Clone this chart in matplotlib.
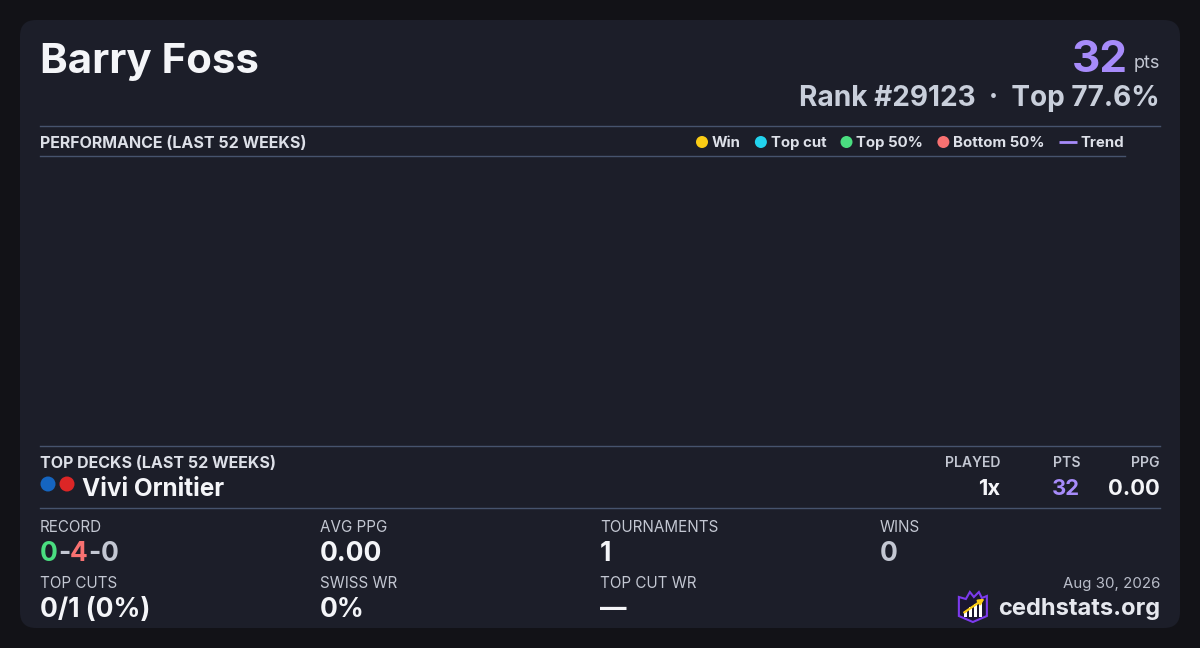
import matplotlib
matplotlib.use("Agg")
import matplotlib.pyplot as plt
from matplotlib.patches import FancyBboxPatch, Circle, Polygon, Rectangle

plt.rcParams['font.family'] = ['Inter', 'DejaVu Sans']

# --- data ---
player = "Barry Foss"
points = 32
rank = 29123
top_pct = 77.6

legend_labels = ["Win", "Top cut", "Top 50%", "Bottom 50%"]
legend_colors = ["#facc15", "#22d3ee", "#4ade80", "#f87171"]
trend_color = "#a78bfa"

deck_name = "Vivi Ornitier"
deck_colors = ["#1565c0", "#dc2626"]
deck_played = "1x"
deck_pts = 32
deck_ppg = "0.00"

record = [0, 4, 0]
stat_labels = ["RECORD", "AVG PPG", "TOURNAMENTS", "WINS",
               "TOP CUTS", "SWISS WR", "TOP CUT WR"]
stat_values = [None, "0.00", "1", "0",
               "0/1 (0%)", "0%", "\u2014"]
date_str = "Aug 30, 2026"
site = "cedhstats.org"

BG = "#121217"
CARD = "#1c1e29"
LINE = "#46536d"
WHITE = "#f4f5f8"
LIGHT = "#dde0e8"
GREY = "#c3c7d2"
PURPLE = "#a78bfa"

def pt(px):
    return px * 0.72

fig = plt.figure(figsize=(12, 6.48), dpi=100, facecolor=BG)
ax = fig.add_axes([0, 0, 1, 1])
ax.set_xlim(0, 1200)
ax.set_ylim(648, 0)
ax.axis('off')
ax.set_facecolor(BG)

ax.add_patch(FancyBboxPatch((20, 20), 1160, 608,
                            boxstyle="round,pad=0,rounding_size=16",
                            fc=CARD, ec="none"))

renderer = fig.canvas.get_renderer()
inv = ax.transData.inverted()

def left_edge(t):
    bb = t.get_window_extent(renderer)
    return inv.transform((bb.x0, bb.y0))[0]

def right_edge(t):
    bb = t.get_window_extent(renderer)
    return inv.transform((bb.x1, bb.y0))[0]

# header
ax.text(40, 62, player, fontsize=pt(42), fontweight='bold', color=WHITE,
        va='center', ha='left')
t = ax.text(1160, 64, "pts", fontsize=pt(18), color=GREY, va='center', ha='right')
ax.text(left_edge(t) - 6, 60, str(points), fontsize=pt(44), fontweight='bold',
        color=PURPLE, va='center', ha='right')
ax.text(1160, 98, f"Rank #{rank}  \u00b7  Top {top_pct}%", fontsize=pt(28),
        fontweight='bold', color="#c9cfdb", va='center', ha='right')

# performance section
ax.plot([40, 1160], [126, 126], color=LINE, lw=1)
ax.plot([40, 1125], [156, 156], color=LINE, lw=1)
ax.text(40, 143, "PERFORMANCE (LAST 52 WEEKS)", fontsize=pt(16),
        fontweight='bold', color=LIGHT, va='center', ha='left')

x = 696
for lab, col in zip(legend_labels, legend_colors):
    ax.add_patch(Circle((x + 6, 142), 6, fc=col, ec='none'))
    t = ax.text(x + 16, 143, lab, fontsize=pt(15), fontweight='bold',
                color=LIGHT, va='center', ha='left')
    x = right_edge(t) + 14
ax.plot([x, x + 18], [142, 142], color=trend_color, lw=2, solid_capstyle='butt')
ax.text(x + 22, 143, "Trend", fontsize=pt(15), fontweight='bold',
        color=LIGHT, va='center', ha='left')

# top decks
ax.plot([40, 1160], [446, 446], color=LINE, lw=1)
ax.plot([40, 1160], [508, 508], color=LINE, lw=1)
ax.text(40, 463, "TOP DECKS (LAST 52 WEEKS)", fontsize=pt(16),
        fontweight='bold', color=LIGHT, va='center', ha='left')
for i, col in enumerate(deck_colors):
    ax.add_patch(Circle((48 + 19 * i, 484), 7.5, fc=col, ec='none'))
ax.text(82, 489, deck_name, fontsize=pt(24.4), fontweight='bold', color=WHITE,
        va='center', ha='left')

col_x = [1000, 1080, 1160]
col_heads = ["PLAYED", "PTS", "PPG"]
col_vals = [deck_played, str(deck_pts), deck_ppg]
col_cols = [WHITE, PURPLE, WHITE]
for cx, h, v, c in zip(col_x, col_heads, col_vals, col_cols):
    ax.text(cx, 463, h, fontsize=pt(14), fontweight='semibold', color=GREY,
            va='center', ha='right')
    ax.text(cx, 489, v, fontsize=pt(22), fontweight='bold', color=c,
            va='center', ha='right')

# stats grid
grid_x = [40, 320, 600, 880]
for i, (lab, val) in enumerate(zip(stat_labels, stat_values)):
    gx = grid_x[i % 4]
    gy = 527 if i < 4 else 583
    ax.text(gx, gy, lab, fontsize=pt(15.2), color=GREY, va='center', ha='left')
    if val is None:
        xx = gx
        parts = [str(record[0]), "-", str(record[1]), "-", str(record[2])]
        pcols = ["#4ade80", GREY, "#f87171", GREY, GREY]
        for p, pc in zip(parts, pcols):
            t = ax.text(xx, gy + 27, p, fontsize=pt(26.5), fontweight='bold',
                        color=pc, va='center', ha='left')
            xx = right_edge(t)
    else:
        vcol = GREY if lab == "WINS" else WHITE
        ax.text(gx, gy + 27, val, fontsize=pt(26.5), fontweight='bold',
                color=vcol, va='center', ha='left')

# footer
ax.text(1160, 584, date_str, fontsize=pt(15), color="#b9bdc9",
        va='center', ha='right')
t = ax.text(1160, 609, site, fontsize=pt(23.7), fontweight='bold', color="#e6e8ee",
            va='center', ha='right')

# logo
lx = left_edge(t) - 39
shield = [(0, 5), (7, 7), (11, 0), (15, 5), (20, 0), (23, 6), (28, 4),
          (28, 24), (14, 30), (0, 24)]
ax.add_patch(Polygon([(lx + a, 592 + b) for a, b in shield], closed=True,
                     fc="#1a1630", ec="#7c3aed", lw=1.5, zorder=2))
for bx, bh in zip([5, 10, 15, 20], [6, 10, 13, 16]):
    ax.add_patch(Rectangle((lx + bx, 617 - bh), 3, bh, fc="white", ec="none",
                           zorder=3))
ax.annotate("", xy=(lx + 28, 597), xytext=(lx + 3, 614),
            arrowprops=dict(arrowstyle="-|>", color="#facc15", lw=1.6,
                            mutation_scale=8), zorder=5)

fig.savefig("out.png", dpi=100, facecolor=BG)
